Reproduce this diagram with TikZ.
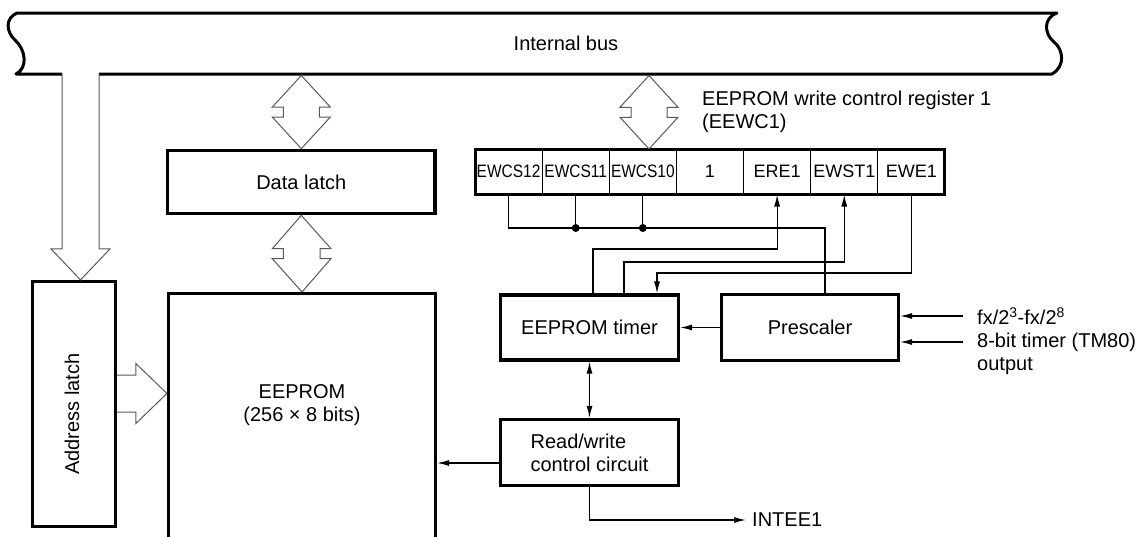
\documentclass[tikz,border=0pt]{standalone}
\usepackage{fontspec}
\setmainfont{Liberation Sans}
\usetikzlibrary{arrows.meta,calc}

% hollow double-headed bus arrow between two tip points (top, bottom)
\newcommand\dualarrow[2]{%
  \draw[hollow] let \p1=(#1), \p2=(#2), \n1={(\y1-\y2)/2-5pt} in
    (\p1) -- ++(-29pt,{-\n1}) -- ++(11pt,0pt) -- ++(0pt,-10pt) -- ++(-11pt,0pt)
    -- (\p2) -- ++(29pt,{\n1}) -- ++(-11pt,0pt) -- ++(0pt,10pt) -- ++(11pt,0pt) -- cycle;}

\begin{document}
\begin{tikzpicture}[x=1pt,y=-1pt,
  blk/.style={draw,line width=3.2pt,inner sep=0pt,font=\fontsize{20}{23}\selectfont},
  cell/.style={draw,line width=1pt,minimum width=67.14pt,minimum height=45.5pt,
               inner sep=0pt,outer sep=0pt,font=\fontsize{18}{20}\selectfont},
  lbl/.style={inner sep=0pt,font=\fontsize{20}{23}\selectfont},
  wire/.style={line width=1.2pt},
  tip/.style={-{Latex[length=12pt,width=6pt]}},
  dtip/.style={{Latex[length=12pt,width=6pt]}-{Latex[length=12pt,width=6pt]}},
  hollow/.style={draw=black!65,line width=1pt,line join=miter}]

\useasboundingbox (0,0) rectangle (1146,536);

% ---- internal bus ----
\draw[line width=3pt,line join=round] (99,74) -- (1052,74)
  .. controls (1066,66) and (1063,49) .. (1054,42)
  .. controls (1044,34) and (1043,18) .. (1057,13)
  -- (17,13)
  .. controls (5,18) and (6,32) .. (15,40)
  .. controls (26,50) and (28,68) .. (16,74)
  -- (62,74);
\coordinate (busB) at (0,75.5);
\coordinate (busL) at (0,74);
\node[lbl] (busname) at (566,43) {Internal bus};

% ---- blocks ----
\node[blk,minimum width=83pt,minimum height=245pt] (al) at (74,404) {};
\node[lbl,rotate=90] (altxt) at (72,414) {Address latch};
\node[blk,minimum width=267.5pt,minimum height=63.5pt] (dl) at (301.3,182) {Data latch};
\node[blk,minimum width=267pt,minimum height=262pt,anchor=north] (ee) at (302,292) {};
\node[lbl,align=center] (eetxt) at (302,405) {EEPROM\\(256 × 8 bits)};
\node[blk,minimum width=178pt,minimum height=65pt] (tm) at (589.5,327.5) {EEPROM timer};
\node[blk,minimum width=177pt,minimum height=66pt] (ps) at (810,327.5) {Prescaler};
\node[blk,minimum width=178pt,minimum height=66pt,align=left] (rw) at (589.5,452.5)
  {Read/write\\control circuit};

% ---- register EEWC1 ----
\node[cell,anchor=west] (r12) at (475,171.75) {\scalebox{0.86}[1]{EWCS12}};
\node[cell,anchor=west] (r11) at (r12.east) {\scalebox{0.86}[1]{EWCS11}};
\node[cell,anchor=west] (r10) at (r11.east) {\scalebox{0.86}[1]{EWCS10}};
\node[cell,anchor=west] (rone) at (r10.east) {1};
\node[cell,anchor=west] (rere) at (rone.east) {ERE1};
\node[cell,anchor=west] (rest) at (rere.east) {EWST1};
\node[cell,anchor=west] (rewe) at (rest.east) {EWE1};
\draw[line width=3pt] (r12.north west) rectangle (rewe.south east);
\node[lbl,anchor=west,align=left] (reglbl) at (702,112)
  {EEPROM write control register 1\\(EEWC1)};

% ---- hollow bus arrows ----
\coordinate (abus) at (80.5,0);
\draw[hollow] let \p1=(abus |- al.north), \p2=(abus |- busL) in
  ({\x1-18.5pt},\y2) -- ({\x1-18.5pt},{\y1+31pt}) -- ({\x1-29.5pt},{\y1+31pt})
  -- (\p1) -- ({\x1+29.5pt},{\y1+31pt}) -- ({\x1+18.5pt},{\y1+31pt}) -- ({\x1+18.5pt},\y2);
\coordinate (ay) at (0,393.5);
\draw[hollow] let \p1=(al.east |- ay), \p2=(ee.west |- ay) in
  (\x1,{\y1+18.5pt}) -- ({\x2-31pt},{\y1+18.5pt}) -- ({\x2-31pt},{\y1+30pt})
  -- (\p2) -- ({\x2-31pt},{\y1-30pt}) -- ({\x2-31pt},{\y1-18.5pt}) -- (\x1,{\y1-18.5pt});
\dualarrow{dl.north |- busB}{dl.north}
\dualarrow{dl.south}{ee.north}
\coordinate (rbus) at (649,0);
\dualarrow{rbus |- busB}{rbus |- r10.north}

% ---- register wiring ----
\coordinate (jn) at (825,228);
\draw[wire] (r12.south) |- (jn) -- (jn |- ps.north);
\draw[wire] (r11.south) -- (r11.south |- jn);
\draw[wire] (r10.south) -- (r10.south |- jn);
\fill (r11.south |- jn) circle (4pt);
\fill (r10.south |- jn) circle (4pt);
\coordinate (lvA) at (593,249);
\draw[wire,tip] (tm.north -| lvA) |- (rere.south |- lvA) -- (rere.south);
\coordinate (lvB) at (624,262);
\draw[wire,tip] (tm.north -| lvB) |- (rest.south |- lvB) -- (rest.south);
\coordinate (lvC) at (657,273);
\draw[wire,tip] (rewe.south) |- (lvC) -- (lvC |- tm.north);

% ---- block wiring ----
\draw[wire,tip] (ps.west) -- (tm.east);
\draw[wire,dtip] (tm.south) -- (rw.north);
\coordinate (rwo) at ([yshift=-10.5pt]rw.west);
\draw[wire,tip] (rwo) -- (rwo -| ee.east);
\node[lbl,anchor=west] (intee) at (752,520) {INTEE1};
\draw[wire,tip] (rw.south) |- ([xshift=-6pt]intee.west);

% ---- prescaler inputs ----
\node[lbl,anchor=west] (fx) at (977,316) {fx/2\textsuperscript{3}-fx/2\textsuperscript{8}};
\node[lbl,anchor=west] (tm80) at (977,342) {8-bit timer (TM80)};
\node[lbl,anchor=base west] (outp) at ([yshift=-23pt]tm80.base west) {output};
\draw[wire,tip] ([xshift=-14pt]fx.west) -- (fx.west -| ps.east);
\draw[wire,tip] ([xshift=-14pt]tm80.west) -- (tm80.west -| ps.east);
\end{tikzpicture}
\end{document}
